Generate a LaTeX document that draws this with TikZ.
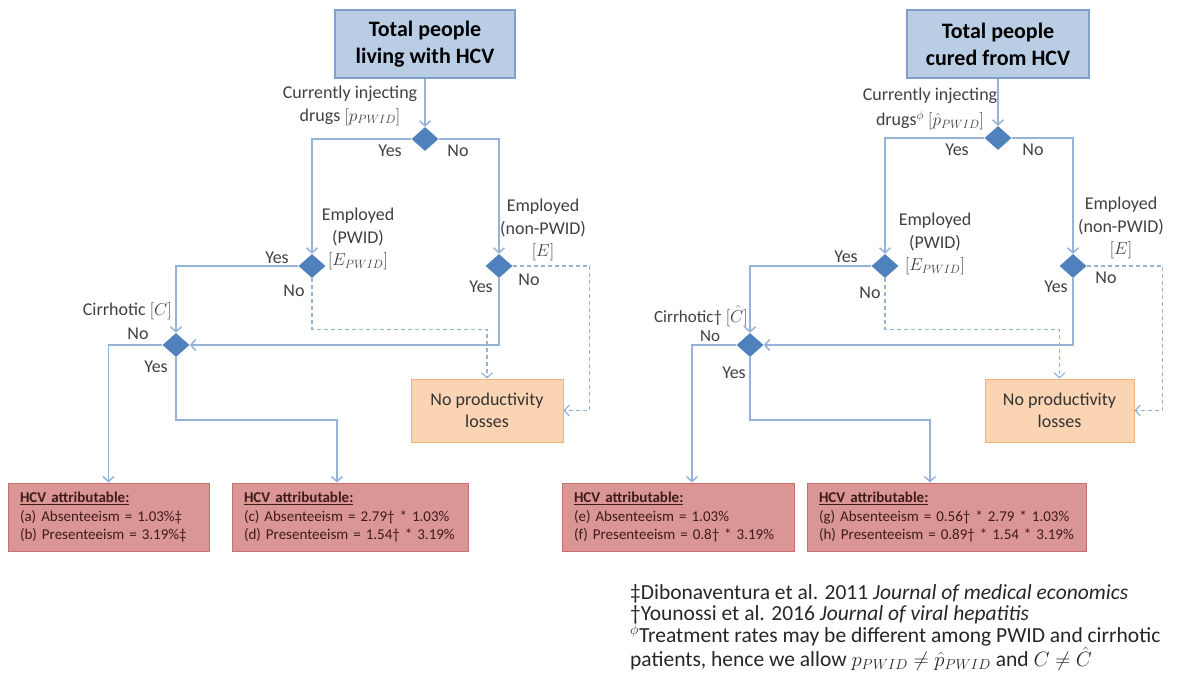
\documentclass[tikz,border=0pt]{standalone}
\usepackage{fontspec}
\setmainfont{Carlito}
\usetikzlibrary{shapes.geometric,arrows.meta}

\definecolor{flowblue}{HTML}{95B3D7}
\definecolor{choiceblue}{HTML}{4F81BD}
\definecolor{rootfill}{HTML}{B9CDE5}
\definecolor{rootline}{HTML}{7EA0CB}
\definecolor{nofill}{HTML}{FBD4B4}
\definecolor{noline}{HTML}{F0B27A}
\definecolor{hcvfill}{HTML}{D99694}
\definecolor{hcvline}{HTML}{C9706D}
\definecolor{hcvtext}{HTML}{3F1A1A}
\definecolor{labgray}{HTML}{404040}

\tikzset{
  flow/.style={draw=flowblue, line width=1.5pt},
  flowdash/.style={draw=flowblue, line width=1.2pt, dash pattern=on 4pt off 3pt},
  tip/.style={-{Straight Barb[length=5pt,width=11pt]}},
  choice/.style={diamond, fill=choiceblue, draw=none, minimum width=27pt, minimum height=24pt, inner sep=0pt},
  rootbox/.style={draw=rootline, fill=rootfill, line width=1.2pt, minimum height=68pt, align=center,
    font=\fontsize{22}{27}\selectfont\bfseries},
  nolossbox/.style={draw=noline, fill=nofill, line width=1pt, minimum height=63pt, align=center,
    text=black!80, font=\fontsize{18}{22}\selectfont},
  hcvbox/.style={draw=hcvline, fill=hcvfill, line width=1pt, minimum height=68pt, align=left,
    text=hcvtext, font=\fontsize{15}{18.5}\selectfont},
  lab/.style={text=labgray, align=center, inner sep=0pt, font=\fontsize{18}{22.5}\selectfont},
}

\newcommand{\hcvhead}{\underline{\textbf{HCV attributable:}}}

\begin{document}
\begin{tikzpicture}[x=1pt, y=-1pt]
\useasboundingbox (0,0) rectangle (1179,689);

% 1. 左树: 节点
\node[rootbox, minimum width=180pt] (totalL) at (425,44) {Total people\\living with HCV};
\node[choice] (injL) at (425,139) {};
\node[choice] (empPL) at (312,266) {};
\node[choice] (empNL) at (499,266) {};
\node[choice] (cirL) at (176,345) {};
\node[nolossbox, minimum width=152pt] (nolossL) at (487,410.5) {No productivity\\losses};
\node[hcvbox, minimum width=201pt, text width=177pt] (hcvA) at (108.5,517)
  {\hcvhead\\(a) Absenteeism = 1.03\%‡\\(b) Presenteeism = 3.19\%‡};
\node[hcvbox, minimum width=236pt, text width=212pt] (hcvB) at (350,517)
  {\hcvhead\\(c) Absenteeism = 2.79† * 1.03\%\\(d) Presenteeism = 1.54† * 3.19\%};

% 2. 左树: 连线
\draw[flow, tip] (totalL.south) -- (injL.north);
\draw[flow, tip] (injL.west) -| (empPL.north);
\draw[flow, tip] (injL.east) -| (empNL.north);
\draw[flow, tip] (empPL.west) -| (cirL.north);
\draw[flow, tip] (empNL.south) |- (cirL.east);
\draw[flowdash, tip] (empPL.south) -- ++(0,51) -| (nolossL.north);
\draw[flowdash, tip] (empNL.east) -- ++(77,0) |- (nolossL.east);
\draw[flow, tip] (cirL.west) -| (hcvA.north);
\draw[flow, tip] (cirL.south) -- ++(0,63) -| ([xshift=-13pt]hcvB.north);

% 3. 左树: 标签
\node[lab] (qinjL) at (350,106) {Currently injecting\\drugs $[p_{PWID}]$};
\node[lab] (qempPL) at (358,239) {Employed\\(PWID)\\$[E_{PWID}]$};
\node[lab] (qempNL) at (543,230) {Employed\\(non-PWID)\\$[E]$};
\node[lab, anchor=east] (qcirL) at (172,311) {Cirrhotic $[C]$};
\node[lab] (y1L) at (390,151) {Yes};
\node[lab] (n1L) at (458,151) {No};
\node[lab] (y2L) at (277,258) {Yes};
\node[lab] (n2L) at (294,291) {No};
\node[lab] (y3L) at (481,287) {Yes};
\node[lab] (n3L) at (529,280) {No};
\node[lab] (n4L) at (138,334) {No};
\node[lab] (y4L) at (156,367) {Yes};

% 4. 右树: 节点
\node[rootbox, minimum width=182pt] (totalR) at (998,44) {Total people\\cured from HCV};
\node[choice] (injR) at (998,138) {};
\node[choice] (empPR) at (885,266) {};
\node[choice] (empNR) at (1073,266) {};
\node[choice] (cirR) at (750,345) {};
\node[nolossbox, minimum width=149pt] (nolossR) at (1059.5,410.5) {No productivity\\losses};
\node[hcvbox, minimum width=232pt, text width=208pt] (hcvE) at (678,517)
  {\hcvhead\\(e) Absenteeism = 1.03\%\\(f) Presenteeism = 0.8† * 3.19\%};
\node[hcvbox, minimum width=279pt, text width=255pt] (hcvF) at (946.5,517)
  {\hcvhead\\(g) Absenteeism = 0.56† * 2.79 * 1.03\%\\(h) Presenteeism = 0.89† * 1.54 * 3.19\%};

% 5. 右树: 连线
\draw[flow, tip] (totalR.south) -- (injR.north);
\draw[flow, tip] (injR.west) -| (empPR.north);
\draw[flow, tip] (injR.east) -| (empNR.north);
\draw[flow, tip] (empPR.west) -| (cirR.north);
\draw[flow, tip] (empNR.south) |- (cirR.east);
\draw[flowdash, tip] (empPR.south) -- ++(0,51) -| (nolossR.north);
\draw[flowdash, tip] (empNR.east) -- ++(76,0) |- (nolossR.east);
\draw[flow, tip] (cirR.west) -| ([xshift=14pt]hcvE.north);
\draw[flow, tip] (cirR.south) -- ++(0,63) -| ([xshift=-16.5pt]hcvF.north);

% 6. 右树: 标签
\node[lab, font=\fontsize{18}{25}\selectfont] (qinjR) at (930,109) {Currently injecting\\drugs$^{\phi}$ $[\hat{p}_{PWID}]$};
\node[lab] (qempPR) at (935,244) {Employed\\(PWID)\\$[E_{PWID}]$};
\node[lab] (qempNR) at (1121,228) {Employed\\(non-PWID)\\$[E]$};
\node[lab, anchor=east, font=\fontsize{17}{20}\selectfont] (qcirR) at (748,316) {Cirrhotic† $[\hat{C}]$};
\node[lab, font=\fontsize{17}{20}\selectfont] (n4R) at (710,336) {No};
\node[lab] (y1R) at (957,150) {Yes};
\node[lab] (n1R) at (1033,150) {No};
\node[lab] (y2R) at (846,257) {Yes};
\node[lab] (n2R) at (870,293) {No};
\node[lab] (y3R) at (1056,287) {Yes};
\node[lab] (n3R) at (1106,278) {No};
\node[lab] (y4R) at (734,373) {Yes};

% 7. 脚注
\node[anchor=north west, align=left, inner sep=0pt, text=black!85, font=\fontsize{21.5}{21}\selectfont] (notes) at (630,584)
  {‡Dibonaventura et al. 2011 \emph{Journal of medical economics}\\
   †Younossi et al. 2016 \emph{Journal of viral hepatitis}\\
   $^{\phi}$Treatment rates may be different among PWID and cirrhotic\\
   patients, hence we allow $p_{PWID} \neq \hat{p}_{PWID}$ and $C \neq \hat{C}$};
\end{tikzpicture}
\end{document}
